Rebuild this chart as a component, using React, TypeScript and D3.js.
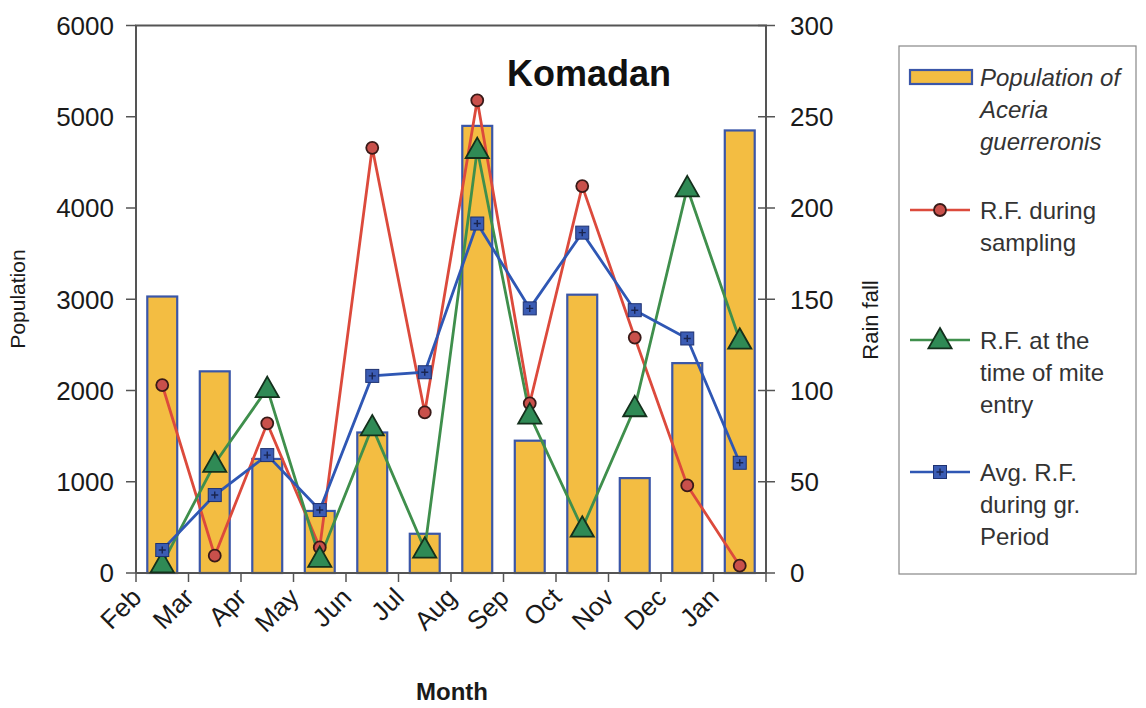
import React from "react";
import * as d3 from "d3";

const months = ["Feb", "Mar", "Apr", "May", "Jun", "Jul", "Aug", "Sep", "Oct", "Nov", "Dec", "Jan"];
const population = [3030, 2210, 1250, 680, 1540, 430, 4900, 1450, 3050, 1040, 2300, 4850];
const rfSampling = [103, 9.5, 82, 14, 233, 88, 259, 93, 212, 129, 48, 4];
const rfMiteEntry = [5, 60, 101, 8, 80, 13, 232, 86.5, 24.5, 90.5, 211, 127.5];
const rfAvgGrowth = [12.6, 42.7, 64.6, 34.5, 108, 110, 191.5, 145, 186.5, 144, 128.5, 60.4];
const leftTicks = [0, 1000, 2000, 3000, 4000, 5000, 6000];
const rightTicks = [0, 50, 100, 150, 200, 250, 300];

const W = 1146;
const H = 708;
const M = { left: 136, right: 766, top: 25.5, bottom: 573 };
const FONT = "'Liberation Sans', Arial, sans-serif";

const RED = "#dc4a3c";
const GREEN = "#3f8f4c";
const BLUE = "#2f57b4";
const BAR = "#f3bd42";
const BAR_STROKE = "#3a56a8";

export default function App() {
  const x = d3.scaleBand<string>().domain(months).range([M.left, M.right]).paddingInner(0).paddingOuter(0);
  const yL = d3.scaleLinear().domain([0, 6000]).range([M.bottom, M.top]);
  const yR = d3.scaleLinear().domain([0, 300]).range([M.bottom, M.top]);
  const bw = x.bandwidth();
  const barW = bw * 0.57;
  const cx = (m: string) => (x(m) as number) + bw / 2;

  const line = (vals: number[]) =>
    d3.line<number>().x((_, i) => cx(months[i])).y((v) => yR(v))(vals) as string;

  const tri = (px: number, py: number, s: number) =>
    `M${px},${py - s * 0.6}L${px + s * 0.58},${py + s * 0.42}L${px - s * 0.58},${py + s * 0.42}Z`;

  const circle = (px: number, py: number, key: string) => (
    <circle key={key} cx={px} cy={py} r={6} fill="#c9504b" stroke="#3a1a18" strokeWidth={1.8} />
  );
  const triangle = (px: number, py: number, key: string) => (
    <path key={key} d={tri(px, py, 20)} fill="#2f8a55" stroke="#14301c" strokeWidth={1.8} />
  );
  const square = (px: number, py: number, key: string) => (
    <g key={key}>
      <rect x={px - 6.5} y={py - 6.5} width={13} height={13} fill="#3b5cb4" stroke="#1f3270" strokeWidth={1} />
      <path d={`M${px - 3.5},${py}H${px + 3.5}M${px},${py - 3.5}V${py + 3.5}`} stroke="#1a2550" strokeWidth={1.4} />
    </g>
  );

  const legendX = 899;
  const legendY = 46;
  const legendTextX = 980;
  const lineGap = 32;
  const legendItems = [
    { y: 77, lines: ["Population of", "Aceria", "guerreronis"], italic: true, kind: "bar" },
    { y: 210, lines: ["R.F. during", "sampling"], italic: false, kind: "red" },
    { y: 340, lines: ["R.F. at the", "time of mite", "entry"], italic: false, kind: "green" },
    { y: 472, lines: ["Avg. R.F.", "during gr.", "Period"], italic: false, kind: "blue" },
  ];

  return (
    <svg width={W} height={H} style={{ position: "absolute", left: 0, top: 0, background: "#fff" }} fontFamily={FONT}>
      <rect x={0} y={0} width={W} height={H} fill="#fff" />
      {/* bars */}
      {months.map((m, i) => (
        <rect
          key={"b" + m}
          x={cx(m) - barW / 2}
          y={yL(population[i])}
          width={barW}
          height={M.bottom - yL(population[i])}
          fill={BAR}
          stroke={BAR_STROKE}
          strokeWidth={2.2}
        />
      ))}
      {/* plot frame */}
      <path d={`M${M.left},${M.bottom}V${M.top}H${M.right}V${M.bottom}H${M.left}`} fill="none" stroke="#555" strokeWidth={2} />
      {/* left ticks */}
      {leftTicks.map((t) => (
        <g key={"l" + t}>
          <line x1={M.left - 10} x2={M.left} y1={yL(t)} y2={yL(t)} stroke="#555" strokeWidth={1.5} />
          <text x={114} y={yL(t)} dy="0.36em" textAnchor="end" fontSize={26} fill="#1a1a1a">{t}</text>
        </g>
      ))}
      {/* right ticks */}
      {rightTicks.map((t) => (
        <g key={"r" + t}>
          <line x1={M.right - 8} x2={M.right + 9} y1={yR(t)} y2={yR(t)} stroke="#555" strokeWidth={1.5} />
          <text x={790} y={yR(t)} dy="0.36em" textAnchor="start" fontSize={26} fill="#1a1a1a">{t}</text>
        </g>
      ))}
      {/* x ticks */}
      {months.concat(["_end"]).map((m, i) => {
        const xx = M.left + i * bw;
        return <line key={"xt" + i} x1={xx} x2={xx} y1={M.bottom} y2={M.bottom + 9} stroke="#555" strokeWidth={1.5} />;
      })}
      {months.map((m) => {
        const ax = (x(m) as number) + 7;
        const ay = 599;
        return (
          <text key={"xl" + m} x={ax} y={ay} textAnchor="end" fontSize={26} fill="#1a1a1a" transform={`rotate(-45,${ax},${ay})`}>
            {m}
          </text>
        );
      })}
      {/* lines */}
      <path d={line(rfSampling)} fill="none" stroke={RED} strokeWidth={2.8} />
      <path d={line(rfMiteEntry)} fill="none" stroke={GREEN} strokeWidth={2.8} />
      <path d={line(rfAvgGrowth)} fill="none" stroke={BLUE} strokeWidth={2.8} />
      {rfSampling.map((v, i) => circle(cx(months[i]), yR(v), "c" + i))}
      {rfMiteEntry.map((v, i) => triangle(cx(months[i]), yR(v), "t" + i))}
      {rfAvgGrowth.map((v, i) => square(cx(months[i]), yR(v), "s" + i))}
      {/* title */}
      <text x={507} y={86} fontSize={36} fontWeight="bold" fill="#111">Komadan</text>
      {/* axis titles */}
      <text transform={`translate(25,299) rotate(-90)`} textAnchor="middle" fontSize={21} fill="#1a1a1a">Population</text>
      <text transform={`translate(878,320) rotate(-90)`} textAnchor="middle" fontSize={22} fill="#1a1a1a">Rain fall</text>
      <text x={452} y={700} textAnchor="middle" fontSize={24} fontWeight="bold" fill="#1a1a1a">Month</text>
      {/* legend */}
      <rect x={legendX} y={legendY} width={1136 - legendX} height={574 - legendY} fill="#fff" stroke="#888" strokeWidth={1.2} />
      {legendItems.map((it) => (
        <g key={it.kind}>
          {it.kind === "bar" ? (
            <rect x={910} y={it.y - 7} width={62} height={14} fill={BAR} stroke={BAR_STROKE} strokeWidth={2.2} />
          ) : (
            <g>
              <line x1={910} x2={970} y1={it.y} y2={it.y} stroke={it.kind === "red" ? RED : it.kind === "green" ? GREEN : BLUE} strokeWidth={2.4} />
              {it.kind === "red" ? circle(940, it.y, "lc") : it.kind === "green" ? triangle(940, it.y, "lt") : square(940, it.y, "ls")}
            </g>
          )}
          {it.lines.map((ln, j) => (
            <text key={j} x={legendTextX} y={it.y + j * lineGap} dy="0.36em" fontSize={24} fontStyle={it.italic ? "italic" : "normal"} fill="#333">
              {ln}
            </text>
          ))}
        </g>
      ))}
    </svg>
  );
}
